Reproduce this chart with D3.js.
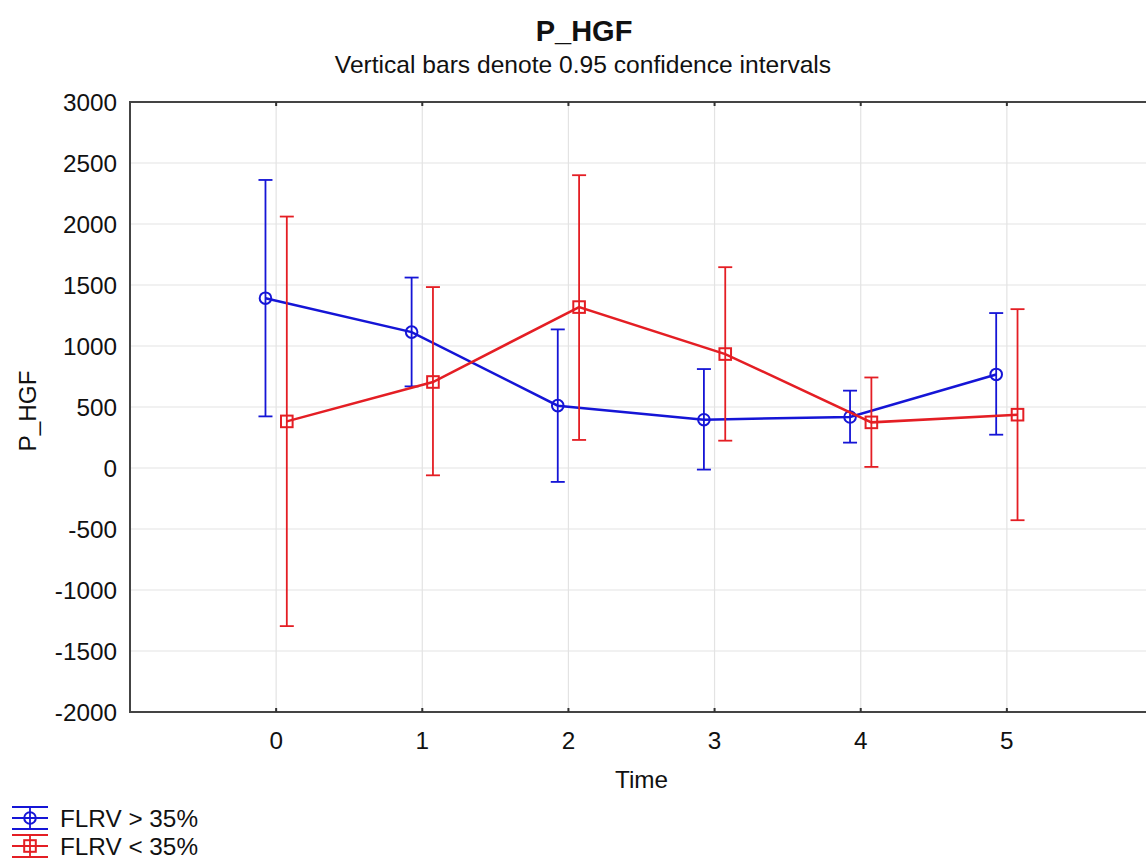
<!DOCTYPE html>
<html><head><meta charset="utf-8">
<script src="https://cdn.jsdelivr.net/npm/d3@7"></script>
<style>body{margin:0;background:#fff;} svg{display:block;font-family:"Liberation Sans",Arial,sans-serif;}</style>
</head><body>
<script>
const times = [0, 1, 2, 3, 4, 5];
const seriesNames = ["FLRV > 35%", "FLRV < 35%"];
const blueMean  = [1392, 1114, 511, 396, 418, 767];
const blueUpper = [2361, 1561, 1136, 811, 634, 1270];
const blueLower = [423, 669, -114, -13, 208, 273];
const redMean   = [382, 705, 1319, 934, 374, 437];
const redUpper  = [2061, 1483, 2400, 1646, 742, 1302];
const redLower  = [-1296, -60, 230, 224, 9, -428];
const yTicks = [3000, 2500, 2000, 1500, 1000, 500, 0, -500, -1000, -1500, -2000];
const xTicks = [0, 1, 2, 3, 4, 5];

const W = 1146, H = 859;
const L = 130, T = 102, R = 1153, B = 712;
const blue = "#1515d6", red = "#e41e24";
const FS = 24.3;

const svg = d3.select("body").append("svg").attr("width", W).attr("height", H);
const x = d3.scaleLinear().domain([-1, 6]).range([L, R]);
const y = d3.scaleLinear().domain([-2000, 3000]).range([B, T]);

// grid
svg.append("g").selectAll("line").data(yTicks.filter(d => d > -2000 && d < 3000)).join("line")
  .attr("x1", L).attr("x2", R).attr("y1", d => y(d)).attr("y2", d => y(d))
  .attr("stroke", "#e3e3e3").attr("stroke-width", 1.2);
svg.append("g").selectAll("line").data(xTicks).join("line")
  .attr("y1", T).attr("y2", B).attr("x1", d => x(d)).attr("x2", d => x(d))
  .attr("stroke", "#e3e3e3").attr("stroke-width", 1.2);

// frame
svg.append("path").attr("d", `M${R},${T}H${L}V${B}H${R}`).attr("fill", "none")
  .attr("stroke", "#444").attr("stroke-width", 2);
// inward ticks
svg.append("g").selectAll("line").data(xTicks).join("line")
  .attr("x1", d => x(d)).attr("x2", d => x(d)).attr("y1", B).attr("y2", B - 4)
  .attr("stroke", "#333").attr("stroke-width", 2);
svg.append("g").selectAll("line").data(xTicks).join("line")
  .attr("x1", d => x(d)).attr("x2", d => x(d)).attr("y1", T).attr("y2", T + 4)
  .attr("stroke", "#333").attr("stroke-width", 2);

// axes labels
svg.append("g").selectAll("text").data(yTicks).join("text")
  .attr("x", 117).attr("y", d => y(d) + 8.5).attr("text-anchor", "end")
  .attr("font-size", FS).attr("fill", "#111").text(d => d);
svg.append("g").selectAll("text").data(xTicks).join("text")
  .attr("x", d => x(d)).attr("y", 749).attr("text-anchor", "middle")
  .attr("font-size", FS).attr("fill", "#111").text(d => d);

svg.append("text").attr("x", (L + R) / 2).attr("y", 788).attr("text-anchor", "middle")
  .attr("font-size", FS).attr("fill", "#111").text("Time");
svg.append("text").attr("transform", "translate(36,411) rotate(-90)").attr("text-anchor", "middle")
  .attr("font-size", FS).attr("fill", "#111").text("P_HGF");

svg.append("text").attr("x", 584).attr("y", 41).attr("text-anchor", "middle")
  .attr("font-size", 29).attr("font-weight", "bold").attr("fill", "#111").text("P_HGF");
svg.append("text").attr("x", 583).attr("y", 73).attr("text-anchor", "middle")
  .attr("font-size", 24.6).attr("fill", "#111").text("Vertical bars denote 0.95 confidence intervals");

const off = 0.073;
const series = [
  {name: seriesNames[0], mean: blueMean, up: blueUpper, lo: blueLower, color: blue, dx: -off, shape: "circle"},
  {name: seriesNames[1], mean: redMean, up: redUpper, lo: redLower, color: red, dx: off, shape: "square"}
];
const cap = 7, ms = 5.8;

function marker(g, shape, cx, cy, color) {
  if (shape === "circle") {
    g.append("circle").attr("cx", cx).attr("cy", cy).attr("r", ms).attr("fill", "none")
      .attr("stroke", color).attr("stroke-width", 2);
  } else {
    g.append("rect").attr("x", cx - ms).attr("y", cy - ms).attr("width", 2 * ms).attr("height", 2 * ms)
      .attr("fill", "none").attr("stroke", color).attr("stroke-width", 2);
  }
}

series.forEach(s => {
  const g = svg.append("g");
  const pts = times.map((t, i) => ({t, m: s.mean[i], u: s.up[i], l: s.lo[i]}));
  pts.forEach(p => {
    const cx = x(p.t + s.dx);
    g.append("line").attr("x1", cx).attr("x2", cx).attr("y1", y(p.u)).attr("y2", y(p.l))
      .attr("stroke", s.color).attr("stroke-width", 1.8);
    [p.u, p.l].forEach(v => g.append("line").attr("x1", cx - cap).attr("x2", cx + cap)
      .attr("y1", y(v)).attr("y2", y(v)).attr("stroke", s.color).attr("stroke-width", 1.8));
  });
  g.append("path").datum(pts)
    .attr("d", d3.line().x(p => x(p.t + s.dx)).y(p => y(p.m)))
    .attr("fill", "none").attr("stroke", s.color).attr("stroke-width", 2.5);
  pts.forEach(p => marker(g, s.shape, x(p.t + s.dx), y(p.m), s.color));
});

// legend
series.forEach((s, i) => {
  const cy = 818 + i * 28;
  const g = svg.append("g");
  [-11, 0, 11].forEach(dy => g.append("line").attr("x1", 12).attr("x2", 48)
    .attr("y1", cy + dy).attr("y2", cy + dy).attr("stroke", s.color).attr("stroke-width", 1.8));
  g.append("line").attr("x1", 30).attr("x2", 30).attr("y1", cy - 11).attr("y2", cy + 11)
    .attr("stroke", s.color).attr("stroke-width", 1.8);
  marker(g, s.shape, 30, cy, s.color);
  g.append("text").attr("x", 60).attr("y", cy + 8.5).attr("font-size", FS).attr("fill", "#111").text(s.name);
});
</script>
</body></html>
